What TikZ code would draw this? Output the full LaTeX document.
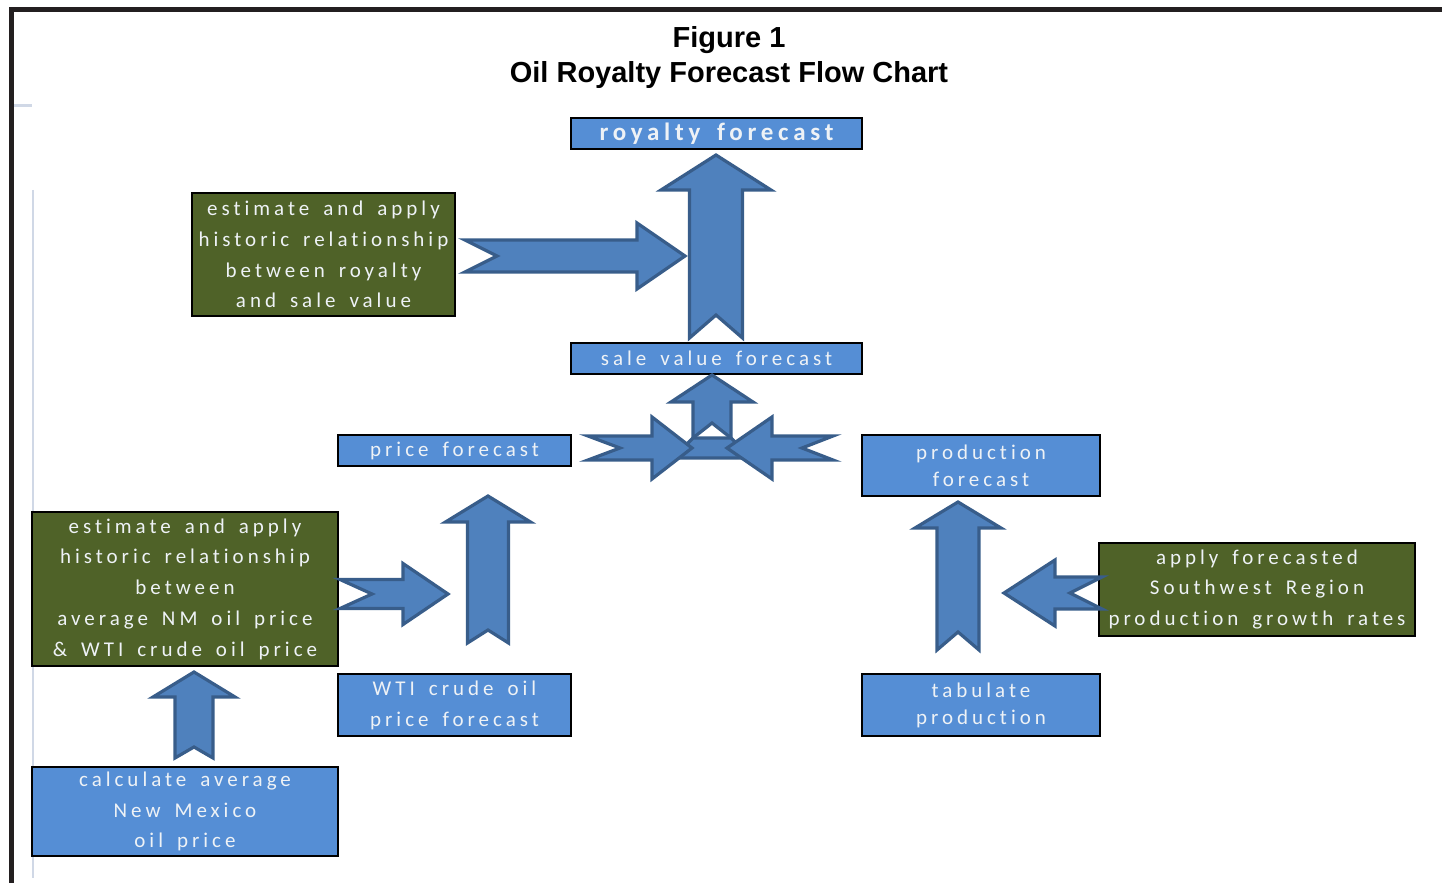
\documentclass[tikz,border=0pt]{standalone}
\usepackage{fontspec}
\usetikzlibrary{positioning}
\setmainfont{Carlito}
\newfontfamily\titlefont{Liberation Sans}
\newfontfamily\spacedfont[LetterSpace=19, WordSpace=1.6, Ligatures={NoCommon}]{Carlito}
\definecolor{boxblue}{RGB}{85,142,213}
\definecolor{boxgreen}{RGB}{79,98,40}
\definecolor{boxtext}{RGB}{238,242,246}
\definecolor{arrowfill}{RGB}{79,129,189}
\definecolor{arrowline}{RGB}{56,93,138}
\definecolor{frameline}{RGB}{35,31,32}
\definecolor{faintline}{RGB}{208,216,230}
\tikzset{%
  blockarrow/.style={fill=arrowfill, draw=arrowline, line width=1.6pt, line join=miter},
}
% x centre, tip y, head base y, half head, half body, bottom y, notch y
\newcommand{\upblock}[7]{%
    \filldraw [blockarrow] (#1,#2) -- (#1+#4,#3) -- (#1+#5,#3) -- (#1+#5,#6) -- (#1,#7)
    -- (#1-#5,#6) -- (#1-#5,#3) -- (#1-#4,#3) -- cycle;}
% y centre, tip x, head base x, half head, half body, tail x, notch x
\newcommand{\sideblock}[7]{%
    \filldraw [blockarrow] (#2,#1) -- (#3,#1-#4) -- (#3,#1-#5) -- (#6,#1-#5) -- (#7,#1)
    -- (#6,#1+#5) -- (#3,#1+#5) -- (#3,#1+#4) -- cycle;}

\begin{document}
\begin{tikzpicture}
    [x=0.5pt, y=-0.5pt,
    box/.style={draw=black, line width=1pt, inner sep=0pt, outer sep=0pt, align=center,
    text=boxtext, font=\spacedfont\fontsize{10.5}{15.4}\selectfont},
    bluebox/.style={box, fill=boxblue},
    greenbox/.style={box, fill=boxgreen},
    boxsize/.style 2 args={minimum width=#1*0.5pt, minimum height=#2*0.5pt}]
    \useasboundingbox (0,0) rectangle (1442,883);

    % frame
    \coordinate (frametl) at (11.5,9.5);
    \draw [frameline, line width=2.5pt] (1442,9.5) -- (frametl) -- (11.5,883);
    \draw [faintline, line width=1.5pt] (14,106) -- (32,106);
    \draw [faintline, line width=0.6pt] (33,190) -- (33,878);

    \node [font=\titlefont\bfseries\fontsize{14.5}{17.5}\selectfont, align=center, inner sep=0pt]
    (title) at (729,58) {Figure 1\\Oil Royalty Forecast Flow Chart};

    \node [bluebox, boxsize={291}{31}, font=\spacedfont\bfseries\fontsize{12.5}{15}\selectfont]
    (royalty) at (716.5,133.5) {royalty forecast};
    \node [bluebox, boxsize={291}{31}] (salevalue) at (716.5,358.5) {sale value forecast};
    \node [bluebox, boxsize={233}{31}] (price) at (454.5,450.5) {price forecast};
    \node [bluebox, boxsize={238}{61}, font=\spacedfont\fontsize{10.5}{13.5}\selectfont]
    (prodfc) at (981,465.5) {production\\forecast};
    \node [bluebox, boxsize={233}{62}] (wti) at (454.5,705) {WTI crude oil\\price forecast};
    \node [bluebox, boxsize={238}{62}, font=\spacedfont\fontsize{10.5}{13.5}\selectfont]
    (tabulate) at (981,705) {tabulate\\production};
    \node [bluebox, boxsize={306}{89}] (nmprice) at (185,811.5)
    {calculate average\\New Mexico\\oil price};
    \node [greenbox, boxsize={263}{123}] (royaltyrel) at (323.5,254.5)
    {estimate and apply\\historic relationship\\between royalty\\and sale value};
    \node [greenbox, boxsize={306}{154}] (pricerel) at (185,589)
    {estimate and apply\\historic relationship\\between\\average NM oil price\\\& WTI crude oil price};
    \node [greenbox, boxsize={316}{93}] (growth) at (1257,589.5)
    {apply forecasted\\Southwest Region\\production growth rates};

    % block arrows
    \sideblock{256}{685}{637}{33}{16}{465}{497}
    \upblock{716}{155}{190}{55}{26.5}{338}{315}
    \upblock{712}{375}{402}{41}{19}{438}{423}
    \filldraw [blockarrow] (693,438) -- (731,438) -- (752,458) -- (673,458) -- cycle;
    \sideblock{448}{692}{652}{31}{12}{588}{620}
    \sideblock{448}{727}{772}{31}{12}{833}{802}
    \sideblock{594}{448}{403}{30.5}{14.5}{340}{372}
    \upblock{488}{496}{522}{42.5}{20.5}{643}{630}
    \upblock{194}{672}{697}{41}{19}{758}{747}
    \upblock{958}{502}{528}{43}{21}{650}{632}
    \sideblock{593}{1004}{1055}{33}{16}{1102}{1070}
\end{tikzpicture}
\end{document}
